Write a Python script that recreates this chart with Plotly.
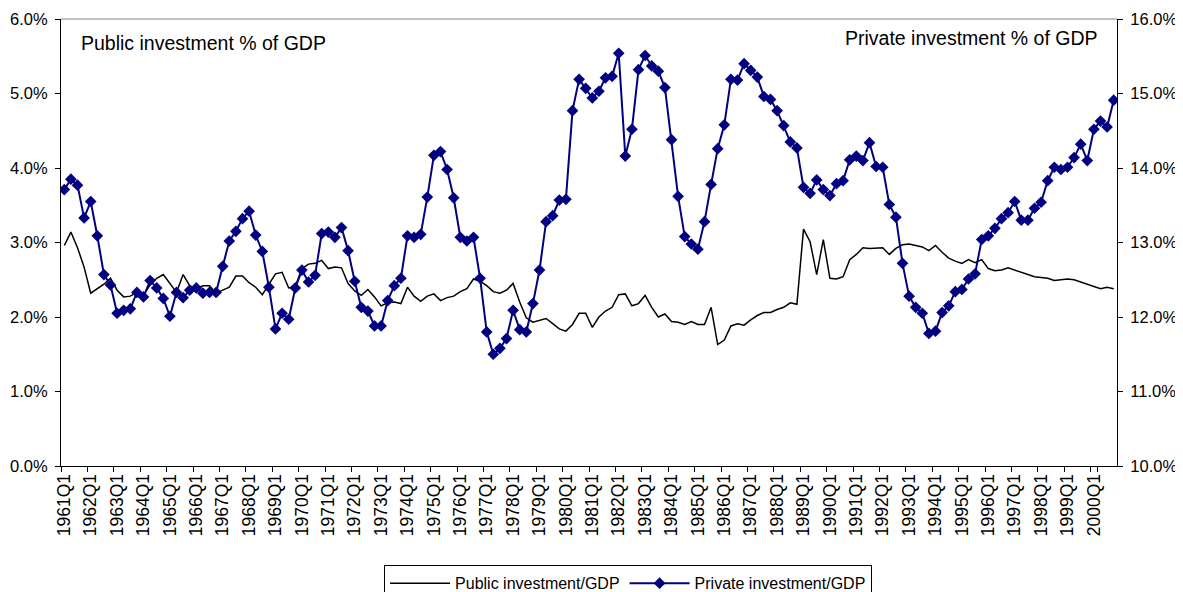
import plotly.graph_objects as go

FONT_FAMILY = "Liberation Sans, Arial, sans-serif"
PUBLIC_COLOR = "#000000"
PRIVATE_COLOR = "#000080"

# Quarterly categories 1961Q1 .. 2000Q4
YEARS = list(range(1961, 2001))
QUARTERS = ["Q1", "Q2", "Q3", "Q4"]
CATEGORIES = [f"{y}{q}" for y in YEARS for q in QUARTERS]
TICK_LABELS = [f"{y}Q1" for y in YEARS]

# Public investment, % of GDP (left axis)
PUBLIC = [
    2.96, 3.14, 2.93, 2.67, 2.32, 2.38, 2.44, 2.52, 2.36, 2.27,
    2.28, 2.33, 2.29, 2.43, 2.52, 2.57, 2.45, 2.33, 2.57, 2.42,
    2.38, 2.42, 2.42, 2.32, 2.36, 2.40, 2.55, 2.55, 2.46, 2.40,
    2.30, 2.44, 2.58, 2.60, 2.39, 2.41, 2.65, 2.71, 2.72, 2.76,
    2.65, 2.67, 2.66, 2.45, 2.35, 2.29, 2.37, 2.27, 2.15, 2.19,
    2.20, 2.18, 2.40, 2.28, 2.21, 2.28, 2.31, 2.22, 2.26, 2.28,
    2.34, 2.38, 2.51, 2.48, 2.42, 2.34, 2.32, 2.36, 2.45, 2.20,
    1.99, 1.93, 1.96, 1.98, 1.91, 1.84, 1.81, 1.90, 2.05, 2.05,
    1.86, 2.00, 2.08, 2.13, 2.30, 2.31, 2.15, 2.18, 2.29, 2.13,
    2.00, 2.04, 1.94, 1.93, 1.90, 1.94, 1.90, 1.90, 2.13, 1.63,
    1.69, 1.88, 1.91, 1.89, 1.96, 2.02, 2.06, 2.06, 2.10, 2.13,
    2.19, 2.17, 3.18, 3.01, 2.57, 3.04, 2.52, 2.51, 2.54, 2.77,
    2.84, 2.93, 2.92, 2.92, 2.93, 2.84, 2.92, 2.97, 2.98, 2.96,
    2.94, 2.89, 2.96, 2.87, 2.79, 2.75, 2.72, 2.77, 2.73, 2.77,
    2.65, 2.62, 2.63, 2.66, 2.63, 2.59, 2.56, 2.54, 2.53, 2.52,
    2.49, 2.50, 2.51, 2.50, 2.47, 2.43, 2.41, 2.38, 2.40, 2.38,
]

# Private investment, % of GDP (right axis)
PRIVATE = [
    13.71, 13.85, 13.77, 13.33, 13.55, 13.09, 12.57, 12.43, 12.05, 12.09,
    12.11, 12.33, 12.27, 12.49, 12.39, 12.25, 12.01, 12.33, 12.26, 12.36,
    12.39, 12.32, 12.33, 12.33, 12.68, 13.02, 13.15, 13.32, 13.42, 13.10,
    12.88, 12.40, 11.84, 12.05, 11.97, 12.39, 12.63, 12.47, 12.56, 13.12,
    13.14, 13.07, 13.20, 12.89, 12.48, 12.13, 12.08, 11.88, 11.88, 12.22,
    12.42, 12.52, 13.09, 13.07, 13.11, 13.61, 14.17, 14.22, 13.98, 13.60,
    13.07, 13.02, 13.07, 12.52, 11.80, 11.50, 11.58, 11.71, 12.09, 11.83,
    11.80, 12.18, 12.63, 13.28, 13.36, 13.57, 13.58, 14.77, 15.19, 15.07,
    14.94, 15.03, 15.21, 15.23, 15.54, 14.16, 14.52, 15.32, 15.51, 15.37,
    15.30, 15.08, 14.38, 13.62, 13.08, 12.98, 12.91, 13.28, 13.78, 14.26,
    14.58, 15.19, 15.18, 15.40, 15.31, 15.22, 14.96, 14.92, 14.77, 14.57,
    14.35, 14.27, 13.74, 13.66, 13.84, 13.71, 13.63, 13.79, 13.83, 14.11,
    14.16, 14.10, 14.34, 14.02, 14.01, 13.51, 13.34, 12.72, 12.28, 12.13,
    12.05, 11.78, 11.81, 12.06, 12.15, 12.34, 12.37, 12.51, 12.58, 13.04,
    13.09, 13.19, 13.32, 13.40, 13.55, 13.30, 13.30, 13.46, 13.54, 13.83,
    14.01, 13.98, 14.01, 14.14, 14.32, 14.10, 14.52, 14.63, 14.55, 14.91,
]

fig = go.Figure()

fig.add_trace(
    go.Scatter(
        x=CATEGORIES,
        y=PUBLIC,
        mode="lines",
        name="Public investment/GDP",
        line=dict(color=PUBLIC_COLOR, width=1.5),
    )
)

fig.add_trace(
    go.Scatter(
        x=CATEGORIES,
        y=PRIVATE,
        mode="lines+markers",
        name="Private investment/GDP",
        yaxis="y2",
        line=dict(color=PRIVATE_COLOR, width=2),
        marker=dict(symbol="diamond", size=9, color=PRIVATE_COLOR),
    )
)

axis_common = dict(
    showgrid=False,
    zeroline=False,
    showline=True,
    linecolor="black",
    linewidth=1,
    ticks="outside",
    ticklen=5,
    tickcolor="black",
    tickfont=dict(family=FONT_FAMILY, size=16.5, color="black"),
)

# the page body adds an 8px offset, so margins are shifted to compensate
fig.update_layout(
    width=1183,
    height=592,
    paper_bgcolor="white",
    plot_bgcolor="white",
    font=dict(family=FONT_FAMILY, color="black"),
    margin=dict(l=53, r=74, t=11, b=134, autoexpand=False),
    xaxis=dict(
        type="category",
        categoryorder="array",
        categoryarray=CATEGORIES,
        range=[-0.5, len(CATEGORIES) - 0.5],
        tickmode="array",
        tickvals=TICK_LABELS,
        ticktext=TICK_LABELS,
        tickson="boundaries",
        tickangle=-90,
        showgrid=False,
        zeroline=False,
        showline=True,
        linecolor="black",
        ticks="outside",
        ticklen=5,
        tickcolor="black",
        tickfont=dict(family=FONT_FAMILY, size=17.5, color="black"),
    ),
    yaxis=dict(
        range=[0, 6],
        dtick=1,
        tickformat=".1f",
        ticksuffix="%",
        ticklabelstandoff=4,
        **axis_common,
    ),
    yaxis2=dict(
        range=[10, 16],
        dtick=1,
        tickformat=".1f",
        ticksuffix="%",
        overlaying="y",
        side="right",
        ticklabelstandoff=4,
        **axis_common,
    ),
    legend=dict(
        orientation="h",
        x=0.537,
        xanchor="center",
        y=-0.222,
        yanchor="top",
        itemwidth=60,
        bordercolor="black",
        borderwidth=1,
        bgcolor="white",
        font=dict(family=FONT_FAMILY, size=16, color="black"),
    ),
    shapes=[
        dict(
            type="line",
            xref="paper",
            yref="paper",
            x0=0,
            x1=1,
            y0=1,
            y1=1,
            line=dict(color="#808080", width=1),
        )
    ],
    annotations=[
        dict(
            text="Public investment % of GDP",
            x=0.0173,
            y=0.9456,
            xref="paper",
            yref="paper",
            xanchor="left",
            yanchor="middle",
            showarrow=False,
            font=dict(family=FONT_FAMILY, size=19.5, color="black"),
        ),
        dict(
            text="Private investment % of GDP",
            x=0.984,
            y=0.957,
            xref="paper",
            yref="paper",
            xanchor="right",
            yanchor="middle",
            showarrow=False,
            font=dict(family=FONT_FAMILY, size=19.5, color="black"),
        ),
    ],
)

fig.write_html("out.html")
